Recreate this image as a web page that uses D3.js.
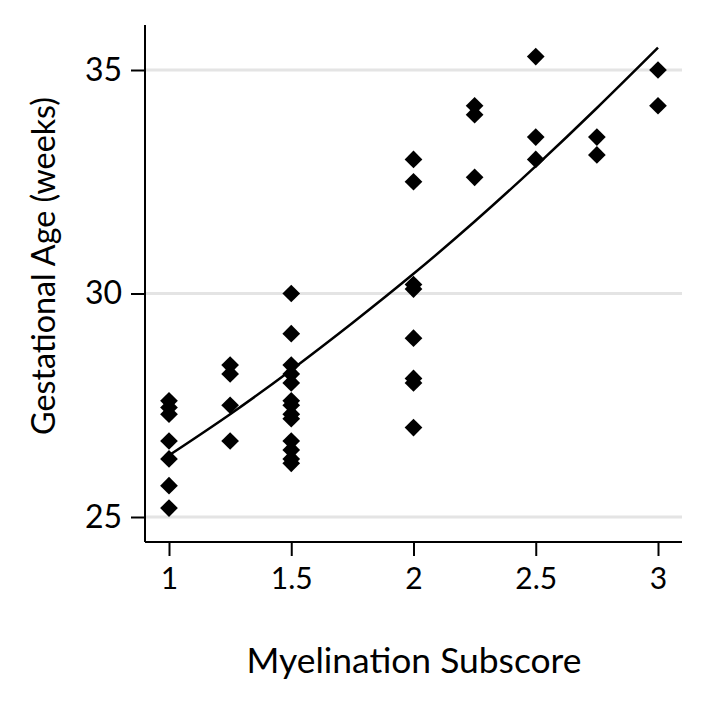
<!DOCTYPE html>
<html>
<head>
<meta charset="utf-8">
<script src="https://cdn.jsdelivr.net/npm/d3@7"></script>
<style>
  body { margin: 0; background: #fff; }
  text { font-family: Lato, "Open Sans", sans-serif; fill: #000; }
</style>
</head>
<body>
<svg id="chart" width="707" height="705"></svg>
<script>
const width = 707, height = 705;

// observations: myelination subscore and gestational age (weeks)
const subscore = [
  1, 1, 1, 1, 1, 1, 1,
  1.25, 1.25, 1.25, 1.25,
  1.5, 1.5, 1.5, 1.5, 1.5, 1.5, 1.5, 1.5, 1.5, 1.5, 1.5, 1.5, 1.5,
  2, 2, 2, 2, 2, 2, 2, 2,
  2.25, 2.25, 2.25,
  2.5, 2.5, 2.5,
  2.75, 2.75,
  3, 3
];
const gestAge = [
  27.6, 27.45, 27.3, 26.7, 26.3, 25.7, 25.2,
  28.4, 28.2, 27.5, 26.7,
  30.0, 29.1, 28.4, 28.2, 28.0, 27.6, 27.5, 27.3, 27.2, 26.7, 26.5, 26.3, 26.2,
  33.0, 32.5, 30.2, 30.1, 29.0, 28.1, 28.0, 27.0,
  34.2, 34.0, 32.6,
  35.3, 33.5, 33.0,
  33.5, 33.1,
  35.0, 34.2
];

// fitted curve
const fitX = [1, 1.25, 1.5, 1.75, 2, 2.25, 2.5, 2.75, 3];
const fitY = [26.38, 27.3, 28.29, 29.34, 30.44, 31.61, 32.85, 34.15, 35.5];

const xTicks = [1, 1.5, 2, 2.5, 3];
const yTicks = [25, 30, 35];

const svg = d3.select("#chart");

const x = d3.scaleLinear().domain([1, 3]).range([169, 658]);
const y = d3.scaleLinear().domain([25, 35]).range([517, 70]);

const plotLeft = 145, plotRight = 682, plotTop = 25, plotBottom = 542;

// grid lines
svg.append("g")
  .selectAll("line")
  .data(yTicks)
  .enter().append("line")
  .attr("x1", plotLeft).attr("x2", plotRight)
  .attr("y1", d => y(d)).attr("y2", d => y(d))
  .attr("stroke", "#e4e4e4")
  .attr("stroke-width", 3);

// y axis
const yAxis = svg.append("g")
  .attr("transform", `translate(${plotLeft},0)`)
  .call(d3.axisLeft(y).tickValues(yTicks).tickSize(14).tickPadding(9).tickFormat(d3.format("d")));
yAxis.select(".domain").remove();
yAxis.selectAll(".tick line").attr("stroke-width", 2);
yAxis.selectAll(".tick text").attr("font-size", 32);
svg.append("line")
  .attr("x1", plotLeft).attr("x2", plotLeft)
  .attr("y1", plotTop).attr("y2", plotBottom)
  .attr("stroke", "#000").attr("stroke-width", 2);

// x axis
const xAxis = svg.append("g")
  .attr("transform", `translate(0,${plotBottom})`)
  .call(d3.axisBottom(x).tickValues(xTicks).tickSize(14).tickPadding(12).tickFormat(d => d));
xAxis.select(".domain").remove();
xAxis.selectAll(".tick line").attr("stroke-width", 2);
xAxis.selectAll(".tick text").attr("font-size", 30);
svg.append("line")
  .attr("x1", plotLeft).attr("x2", plotRight)
  .attr("y1", plotBottom).attr("y2", plotBottom)
  .attr("stroke", "#000").attr("stroke-width", 2);

// axis titles, sized to the span they take in the original
function fitText(sel, span) {
  const w = sel.node().getComputedTextLength();
  sel.attr("font-size", 30 * span / w);
}

const xTitle = svg.append("text")
  .attr("x", 414).attr("y", 673)
  .attr("text-anchor", "middle")
  .attr("font-size", 30)
  .text("Myelination Subscore");
fitText(xTitle, 335);

const yTitle = svg.append("text")
  .attr("transform", "translate(55,266) rotate(-90)")
  .attr("text-anchor", "middle")
  .attr("font-size", 30)
  .text("Gestational Age (weeks)");
fitText(yTitle, 338);

// fitted curve
const fit = fitX.map((v, i) => ({ x: v, y: fitY[i] }));
svg.append("path")
  .datum(fit)
  .attr("fill", "none")
  .attr("stroke", "#000")
  .attr("stroke-width", 2.5)
  .attr("d", d3.line().x(d => x(d.x)).y(d => y(d.y)).curve(d3.curveNatural));

// points
const points = subscore.map((v, i) => ({ x: v, y: gestAge[i] }));
const diamond = d3.symbol(d3.symbolDiamond2, 200);
svg.append("g")
  .selectAll("path")
  .data(points)
  .enter().append("path")
  .attr("transform", d => `translate(${x(d.x)},${y(d.y)})`)
  .attr("d", diamond)
  .attr("fill", "#000");
</script>
</body>
</html>
